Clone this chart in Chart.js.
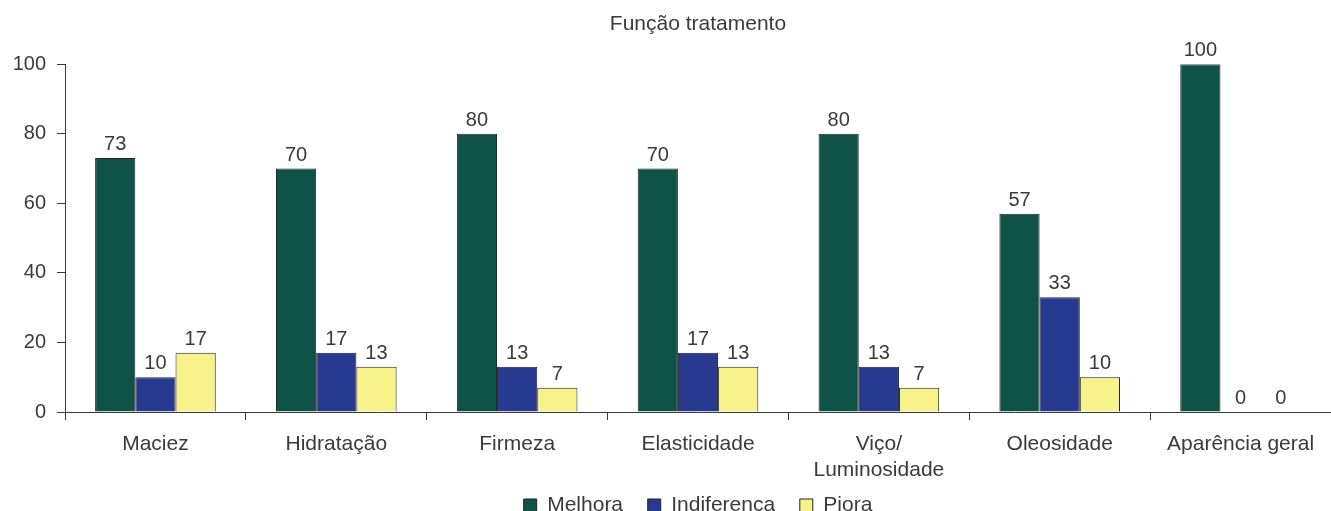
<!DOCTYPE html>
<html>
<head>
<meta charset="utf-8">
<style>
  html, body { margin: 0; padding: 0; background: #fff; }
  #wrap { width: 1331px; height: 511px; }
</style>
</head>
<body>
<div id="wrap"><canvas id="chart" width="1331" height="511"></canvas></div>
<script src="https://cdn.jsdelivr.net/npm/chart.js@4/dist/chart.umd.min.js"></script>
<script>
// Dados do gráfico
const categorias = ['Maciez', 'Hidratação', 'Firmeza', 'Elasticidade', ['Viço/', 'Luminosidade'], 'Oleosidade', 'Aparência geral'];
const melhora = [73, 70, 80, 70, 80, 57, 100];
const indiferenca = [10, 17, 13, 17, 13, 33, 0];
const piora = [17, 13, 7, 13, 7, 10, 0];
const yTicks = [0, 20, 40, 60, 80, 100];

const FONT = "'Liberation Sans', Arial, Helvetica, sans-serif";
const TXT = '#3a3a3a';

// rótulos de valor acima das barras
const valueLabels = {
    id: 'valueLabels',
    afterDatasetsDraw(chart) {
        const ctx = chart.ctx;
        ctx.save();
        ctx.font = '20px ' + FONT;
        ctx.fillStyle = TXT;
        ctx.textAlign = 'center';
        ctx.textBaseline = 'alphabetic';
        chart.data.datasets.forEach((ds, i) => {
            chart.getDatasetMeta(i).data.forEach((bar, j) => {
                ctx.fillText(ds.data[j], bar.x, bar.y - 8);
            });
        });
        ctx.restore();
    }
};

new Chart(document.getElementById('chart'), {
    type: 'bar',
    data: {
        labels: categorias,
        datasets: [
            { label: 'Melhora', data: melhora, backgroundColor: '#0f5248' },
            { label: 'Indiferenca', data: indiferenca, backgroundColor: '#283a90' },
            { label: 'Piora', data: piora, backgroundColor: '#f8f28a' }
        ].map(d => Object.assign(d, {
            borderColor: '#222',
            borderWidth: 1,
            categoryPercentage: 0.667,
            barPercentage: 1.0
        }))
    },
    options: {
        responsive: false,
        animation: false,
        layout: { padding: { left: 0, right: 0, top: 0, bottom: -15 } },
        plugins: {
            title: {
                display: true,
                fullSize: false,
                text: 'Função tratamento',
                color: TXT,
                font: { family: FONT, size: 21, weight: 'normal', lineHeight: 1.2 },
                padding: { top: 12, bottom: 27 }
            },
            legend: {
                position: 'bottom',
                fullSize: false,
                labels: {
                    color: TXT,
                    font: { family: FONT, size: 21 },
                    boxWidth: 13,
                    boxHeight: 13,
                    padding: 13,
                    // espaço extra entre os itens da legenda
                    generateLabels(chart) {
                        const items = Chart.defaults.plugins.legend.labels.generateLabels(chart);
                        items.forEach((it, i) => { if (i < items.length - 1) it.text += '  '; });
                        return items;
                    }
                }
            },
            tooltip: { enabled: false }
        },
        scales: {
            x: {
                grid: { display: true, offset: true, drawOnChartArea: false, tickLength: 8, color: TXT },
                border: { color: TXT },
                ticks: { color: TXT, font: { family: FONT, size: 21, lineHeight: 1.2 }, padding: 12, maxRotation: 0 },
                afterFit(s) { s.height = 70; }
            },
            y: {
                min: 0,
                max: 100,
                afterBuildTicks(s) { s.ticks = yTicks.map(v => ({ value: v })); },
                grid: { display: true, drawOnChartArea: false, tickLength: 8, color: TXT },
                border: { color: TXT },
                ticks: { color: TXT, font: { family: FONT, size: 20 }, padding: 11 },
                afterFit(s) { s.width = 65; }
            }
        }
    },
    plugins: [valueLabels]
});
</script>
</body>
</html>
